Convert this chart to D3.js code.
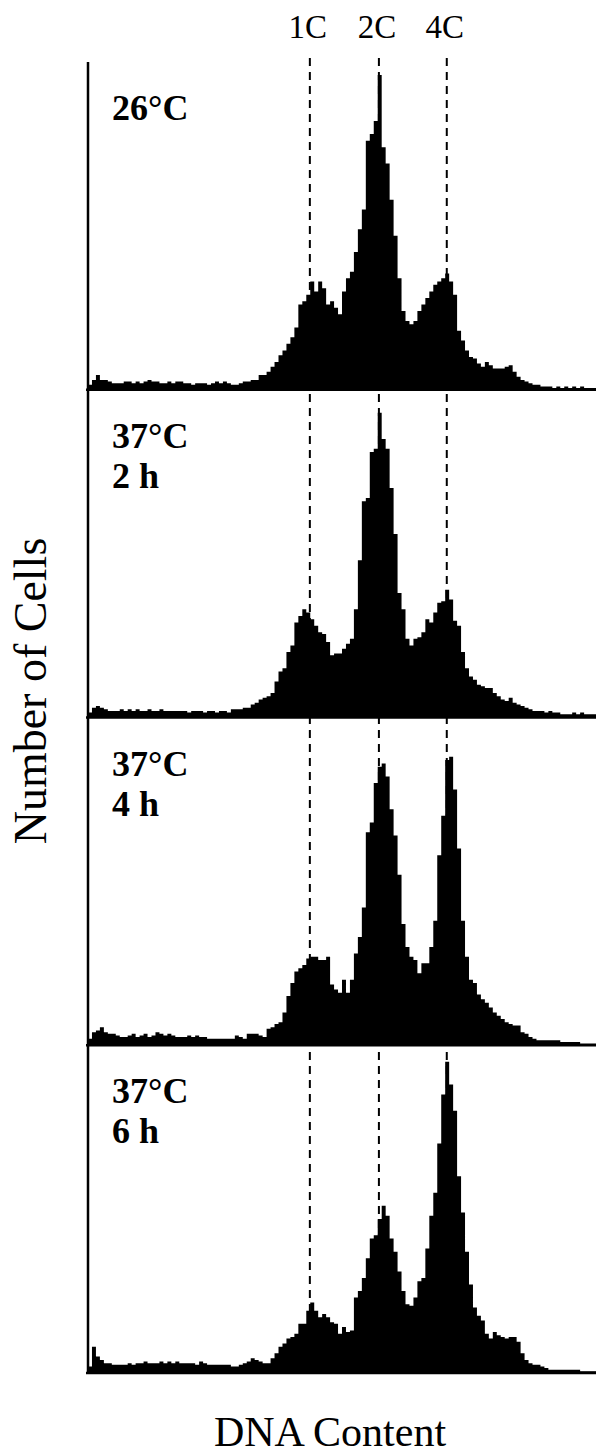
<!DOCTYPE html>
<html>
<head>
<meta charset="utf-8">
<script src="https://cdn.jsdelivr.net/npm/d3@7"></script>
<style>
  body { margin: 0; background: #fff; }
  svg { display: block; }
</style>
</head>
<body>
<svg class="chart" width="596" height="1456"></svg>
<script>
// panel titles (two lines each)
var panelLabels = [
    ["26\u00B0C"],
    ["37\u00B0C", "2 h"],
    ["37\u00B0C", "4 h"],
    ["37\u00B0C", "6 h"]
];
// DNA content markers, in channel units (128 channels across)
var markerNames = ["1C", "2C", "4C"];
var markerPos = [55.9, 73.3, 90.4];

// counts per channel, % of panel height
var counts26 = [
    1.5, 3, 4.5, 3, 3, 2.5, 2, 2, 2, 2.5, 2.5, 2, 2.5, 2, 2.5, 3,
    2.5, 2.5, 2, 2, 2.5, 2, 2.5, 2.5, 2, 2, 1.5, 2, 2, 2, 1.5, 2,
    2.5, 2, 2.5, 2, 1.5, 1.5, 2, 2.5, 2.5, 3, 3, 4.5, 4.5, 5.5, 7, 8.5,
    10.5, 12, 14, 16, 19, 26, 27, 29, 33, 30, 33, 31, 26, 27, 25, 23,
    30, 34, 36, 42, 49, 55, 76, 78, 82, 96, 74, 69, 58, 47, 34, 24,
    21, 20, 21, 24, 26, 28, 30, 32, 33, 34, 35.5, 33, 29, 18, 15, 12,
    10, 9.5, 8, 7, 8.5, 7.5, 6.5, 6.5, 6.5, 7, 7.5, 5.5, 4, 3, 2.5, 2,
    1.5, 1.5, 1, 1, 1, 0.5, 1, 0.5, 1, 0.5, 1, 0.5, 1, 0.5, 0.5, 0.5
];
var counts2h = [
    1.5, 3, 3.5, 3, 2.5, 2, 2, 2, 2.5, 2, 2.5, 2, 2.5, 2, 2, 2.5,
    2, 2, 2.5, 2, 2, 2, 2, 2, 2, 1.5, 2, 2, 2, 1.5, 2, 2,
    1.5, 2, 2, 1.5, 2.5, 2.5, 2.5, 3, 3, 4, 4.5, 5.5, 6, 6.5, 7.5, 11,
    14, 15, 20, 22, 29, 31, 33, 32, 30, 28, 26, 25.5, 23, 19, 19.5, 19.5,
    21, 22.5, 24, 33, 48, 66, 67, 81, 82, 93, 85, 82, 70, 56, 38, 33,
    24, 22, 24, 24.5, 26, 30, 29, 32, 35, 35.5, 39, 36, 29.5, 28, 20, 15,
    12.5, 11.5, 10, 9.5, 9, 9, 7.5, 6.5, 5.5, 5, 6, 4.5, 4, 3.5, 3, 2.5,
    2, 2, 2, 1.5, 2, 1.5, 1.5, 1, 1, 1, 1.5, 1, 1.5, 1, 1, 1
];
var counts4h = [
    2, 4, 4.5, 5.5, 4, 3.5, 3.5, 3, 2.5, 2.5, 3, 3.5, 2.5, 3, 3.5, 2.5,
    3, 4, 3.5, 3, 3.5, 3, 2.5, 2.5, 2.5, 3, 2.5, 3, 2.5, 2.5, 2, 2,
    2, 2, 2, 2, 2, 3, 2.5, 2, 3.5, 3.5, 3.5, 3, 2.5, 5, 5.5, 6.5,
    7, 10, 15, 19, 22.5, 23.5, 24.5, 26.5, 27, 27, 26, 26, 27, 18.5, 17, 16,
    20, 16, 20, 28, 33, 42, 65, 68, 80, 85, 86, 82, 72, 64, 52, 37,
    30, 27, 26, 22, 25, 25, 30, 38, 58, 70, 87, 88, 78, 60, 38, 27,
    20, 19, 15.5, 14, 13, 11.5, 10, 9, 8, 7, 6.5, 6, 6, 4, 3.5, 2.5,
    2, 1.5, 1.5, 1.5, 1.5, 1.5, 1.5, 1, 1, 1, 1, 1, 0.5, 0.5, 0.5, 0.5
];
var counts6h = [
    2, 8, 5, 4, 3, 3, 2.5, 2.5, 2.5, 2.5, 3, 2.5, 3, 3, 3.5, 3,
    3, 3, 3.5, 3, 3.5, 3, 3.5, 3, 3, 3, 3, 2.5, 3.5, 3, 2.5, 2.5,
    2.5, 2.5, 2.5, 2.5, 2, 2, 2.5, 3, 3.5, 4.5, 4, 3.5, 3, 3, 4.5, 6,
    8, 9, 10.5, 11, 12, 15, 15, 19, 21.5, 19, 17, 18, 17, 15.5, 15, 12,
    14, 12.5, 13, 23, 25, 29, 35, 41, 42, 47, 51, 48, 41, 37, 31, 25,
    21, 20.5, 23, 28, 29, 38, 48, 55, 70, 85, 95, 88, 80, 60, 49, 37,
    27, 20, 17.5, 16, 12, 10.5, 12.5, 11.5, 11, 10.5, 11, 11, 9.5, 6, 4, 3,
    2.5, 2.5, 2, 1.5, 1, 1, 1, 1, 1, 1, 1, 1, 0.5, 0.5, 0.5, 0.5
];
var series = [counts26, counts2h, counts4h, counts6h];

var margin = {top: 62, left: 88, right: 0, bottom: 83};
var width = 596 - margin.left - margin.right;
var panelH = (1456 - margin.top - margin.bottom) / series.length;

var chart = d3.select('.chart');

var x = d3.scaleLinear()
    .domain([0, 128])
    .range([margin.left, margin.left + width]);

// dashed guide lines sit behind the histograms
chart.selectAll('line.marker')
    .data(markerPos)
    .enter().append('line')
    .attr('class', 'marker')
    .attr('x1', function(d) { return x(d); })
    .attr('x2', function(d) { return x(d); })
    .attr('y1', margin.top - 4)
    .attr('y2', margin.top + panelH * series.length)
    .attr('stroke', '#000')
    .attr('stroke-width', 2)
    .attr('stroke-dasharray', '8,6');

chart.selectAll('text.marker')
    .data(markerNames)
    .enter().append('text')
    .attr('class', 'marker')
    .attr('x', function(d, i) { return x(markerPos[i]) - 2; })
    .attr('y', 38)
    .attr('text-anchor', 'middle')
    .style('font-family', '"Liberation Serif", "Times New Roman", serif')
    .style('font-size', '33px')
    .text(function(d) { return d; });

series.forEach(function(counts, p) {
    var top = margin.top + p * panelH;
    var y = d3.scaleLinear()
        .domain([0, 100])
        .range([top + panelH, top]);

    var pts = counts.map(function(v, i) { return [i, v]; });
    pts.push([counts.length, counts[counts.length - 1]]);

    var area = d3.area()
        .curve(d3.curveStepAfter)
        .x(function(d) { return x(d[0]); })
        .y0(y(0))
        .y1(function(d) { return y(d[1]); });

    chart.append('path')
        .datum(pts)
        .attr('d', area)
        .attr('fill', '#000');

    // baseline of the panel
    chart.append('line')
        .attr('x1', x(0) - 2)
        .attr('x2', x(128))
        .attr('y1', y(0))
        .attr('y2', y(0))
        .attr('stroke', '#000')
        .attr('stroke-width', 2.5);

    var lab = chart.append('text')
        .attr('x', 112)
        .attr('y', top + 58)
        .style('font-family', '"Liberation Serif", "Times New Roman", serif')
        .style('font-weight', 'bold')
        .style('font-size', '36px');
    lab.selectAll('tspan')
        .data(panelLabels[p])
        .enter().append('tspan')
        .attr('x', 112)
        .attr('dy', function(d, i) { return i ? 40 : 0; })
        .text(function(d) { return d; });
});

// left axis
chart.append('line')
    .attr('x1', margin.left)
    .attr('x2', margin.left)
    .attr('y1', margin.top)
    .attr('y2', margin.top + panelH * series.length + 1)
    .attr('stroke', '#000')
    .attr('stroke-width', 2.5);

chart.append('text')
    .attr('transform', 'translate(46,691) rotate(-90)')
    .attr('text-anchor', 'middle')
    .style('font-family', '"Liberation Serif", "Times New Roman", serif')
    .style('font-size', '46px')
    .text('Number of Cells');

chart.append('text')
    .attr('x', 330)
    .attr('y', 1446)
    .attr('text-anchor', 'middle')
    .style('font-family', '"Liberation Serif", "Times New Roman", serif')
    .style('font-size', '42px')
    .text('DNA Content');
</script>
</body>
</html>
